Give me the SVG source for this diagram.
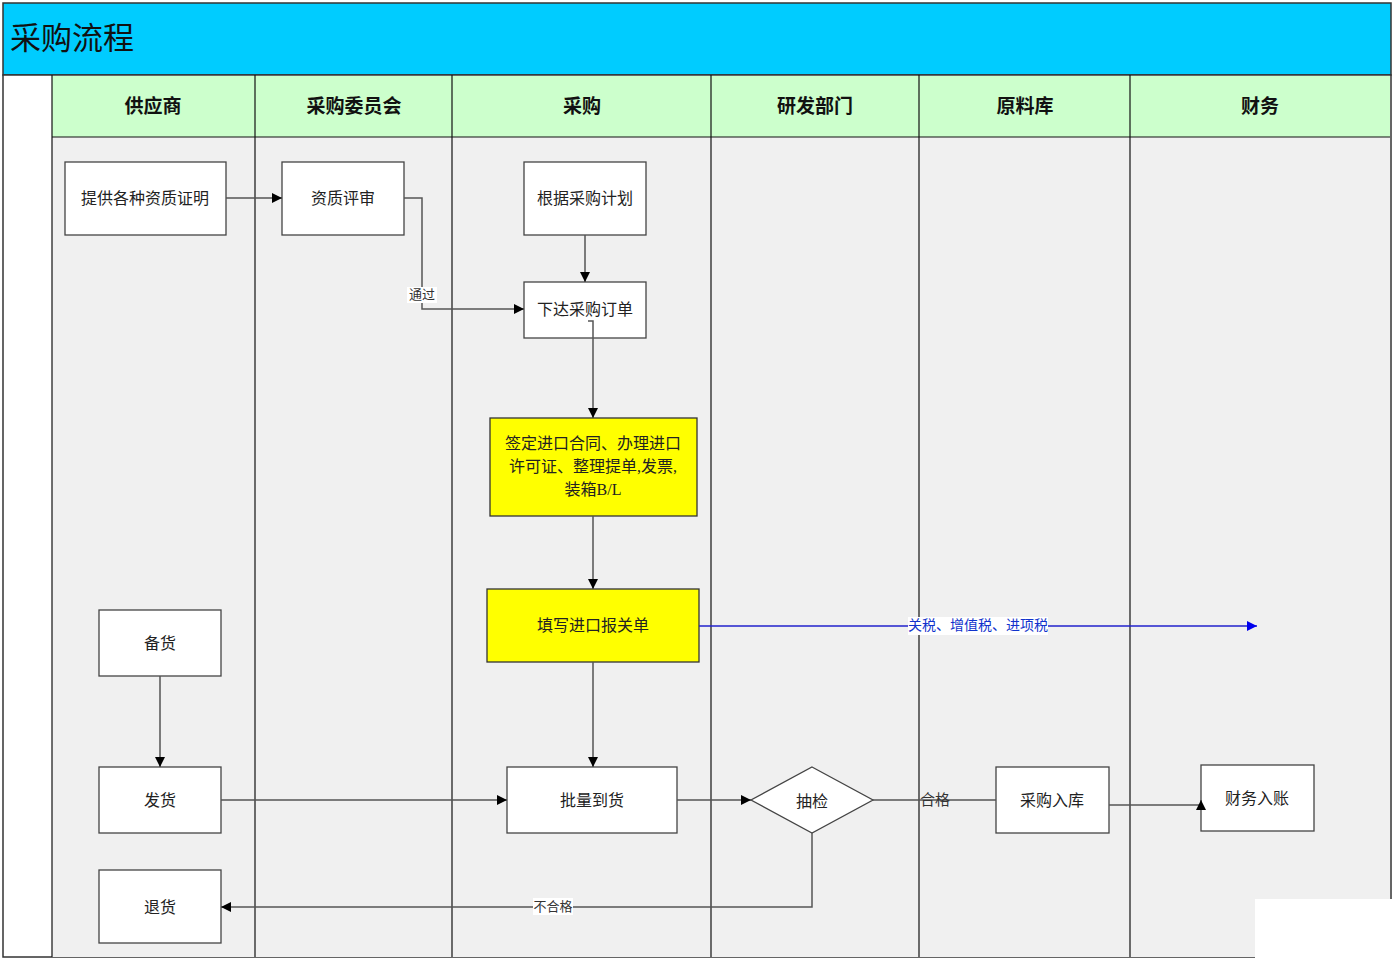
<svg xmlns="http://www.w3.org/2000/svg" width="1395" height="960" viewBox="0 0 1395 960">
<style>
text{font-family:"Liberation Serif","Noto Sans CJK SC",serif;}
.lane{stroke:#111;stroke-width:1.2;fill:none;}
.hdr{font-size:19px;font-weight:bold;fill:#111;text-anchor:middle;}
.box{fill:#fff;stroke:#444;stroke-width:1.3;}
.ybox{fill:#ffff00;stroke:#333;stroke-width:1.3;}
.lbl{font-size:16px;fill:#222;text-anchor:middle;}
.conn{fill:none;stroke:#555;stroke-width:1.5;}
.small{font-size:13px;fill:#333;text-anchor:middle;}
</style>
<defs>
<marker id="arr" viewBox="0 0 10 10" refX="10" refY="5" markerWidth="10" markerHeight="10" markerUnits="userSpaceOnUse" orient="auto"><path d="M0,0 L10,5 L0,10 z" fill="#000"/></marker>
<marker id="arrb" viewBox="0 0 10 10" refX="10" refY="5" markerWidth="10" markerHeight="10" markerUnits="userSpaceOnUse" orient="auto"><path d="M0,0 L10,5 L0,10 z" fill="#0000ee"/></marker>
</defs>
<rect x="0" y="0" width="1395" height="960" fill="#fff"/>
<g id="pool">
<rect x="3" y="3" width="1388" height="72" fill="#00ccff" stroke="#333" stroke-width="1.5"/>
<text x="10" y="49" font-size="31" fill="#111">采购流程</text>
<rect x="3" y="75" width="1388" height="882" fill="#fff" stroke="#333" stroke-width="1.5"/>
<rect x="52" y="76" width="1338" height="61" fill="#ccffcc"/>
<rect x="52" y="137" width="1338" height="820" fill="#f0f0f0"/>
<line class="lane" x1="52" y1="75" x2="52" y2="957"/>
<line class="lane" x1="52" y1="137" x2="1390" y2="137"/>
<line class="lane" x1="255" y1="75" x2="255" y2="957"/>
<line class="lane" x1="452" y1="75" x2="452" y2="957"/>
<line class="lane" x1="711" y1="75" x2="711" y2="957"/>
<line class="lane" x1="919" y1="75" x2="919" y2="957"/>
<line class="lane" x1="1130" y1="75" x2="1130" y2="957"/>
<text class="hdr" x="153" y="113">供应商</text>
<text class="hdr" x="354" y="113">采购委员会</text>
<text class="hdr" x="582" y="113">采购</text>
<text class="hdr" x="815" y="113">研发部门</text>
<text class="hdr" x="1025" y="113">原料库</text>
<text class="hdr" x="1260" y="113">财务</text>
</g>
<g id="n1"><rect class="box" x="65" y="162" width="161" height="73"/><text class="lbl" x="145" y="204">提供各种资质证明</text></g>
<g id="n2"><rect class="box" x="282" y="162" width="122" height="73"/><text class="lbl" x="343" y="204">资质评审</text></g>
<g id="n3"><rect class="box" x="524" y="162" width="122" height="73"/><text class="lbl" x="585" y="204">根据采购计划</text></g>
<g id="n4"><rect class="box" x="524" y="282" width="122" height="56"/><text class="lbl" x="585" y="315">下达采购订单</text></g>
<g id="n5"><rect class="ybox" x="490" y="418" width="207" height="98"/><text class="lbl" x="593" y="449">签定进口合同、办理进口</text><text class="lbl" x="593" y="472">许可证、整理提单,发票,</text><text class="lbl" x="593" y="495">装箱B/L</text></g>
<g id="n6"><rect class="ybox" x="487" y="589" width="212" height="73"/><text class="lbl" x="593" y="631">填写进口报关单</text></g>
<g id="n7"><rect class="box" x="99" y="610" width="122" height="66"/><text class="lbl" x="160" y="649">备货</text></g>
<g id="n8"><rect class="box" x="99" y="767" width="122" height="66"/><text class="lbl" x="160" y="806">发货</text></g>
<g id="n9"><rect class="box" x="99" y="870" width="122" height="73"/><text class="lbl" x="160" y="913">退货</text></g>
<g id="n10"><rect class="box" x="507" y="767" width="170" height="66"/><text class="lbl" x="592" y="806">批量到货</text></g>
<g id="n11"><path class="box" d="M812,767 L873,800 L812,833 L751,800 Z"/><text class="lbl" x="812" y="807" font-size="20">抽检</text></g>
<g id="n12"><rect class="box" x="996" y="767" width="113" height="66"/><text class="lbl" x="1052" y="806">采购入库</text></g>
<g id="n13"><rect class="box" x="1201" y="765" width="113" height="66"/><text class="lbl" x="1257" y="804">财务入账</text></g>
<g id="connectors">
<path class="conn" d="M226,198 H282" marker-end="url(#arr)"/>
<path class="conn" d="M404,198 H422 V309 H524" marker-end="url(#arr)"/>
<path class="conn" d="M585,235 V282" marker-end="url(#arr)"/>
<path class="conn" d="M588,321 H593 V418" marker-end="url(#arr)"/>
<path class="conn" d="M593,516 V589" marker-end="url(#arr)"/>
<path class="conn" d="M593,662 V767" marker-end="url(#arr)"/>
<path fill="none" stroke="#2222cc" stroke-width="1.3" d="M699,626 H1257" marker-end="url(#arrb)"/>
<path class="conn" d="M160,676 V767" marker-end="url(#arr)"/>
<path class="conn" d="M221,800 H507" marker-end="url(#arr)"/>
<path class="conn" d="M677,800 H751" marker-end="url(#arr)"/>
<path class="conn" d="M873,800 H996"/>
<path class="conn" d="M1109,805 H1201 V800" marker-end="url(#arr)"/>
<path class="conn" d="M812,833 V907 H221" marker-end="url(#arr)"/>
<rect x="407" y="287" width="30" height="16" fill="#fff"/>
<text class="small" x="422" y="299">通过</text>
<rect x="908" y="617" width="140" height="18" fill="#fff"/>
<text x="978" y="630" font-size="14" fill="#1133cc" text-anchor="middle">关税、增值税、进项税</text>
<text x="935" y="805" font-size="15" fill="#333" text-anchor="middle">合格</text>
<rect x="533" y="898" width="40" height="17" fill="#fff"/>
<text class="small" x="553" y="911">不合格</text>
</g>
<rect x="1255" y="899" width="140" height="61" fill="#fff"/>
</svg>
